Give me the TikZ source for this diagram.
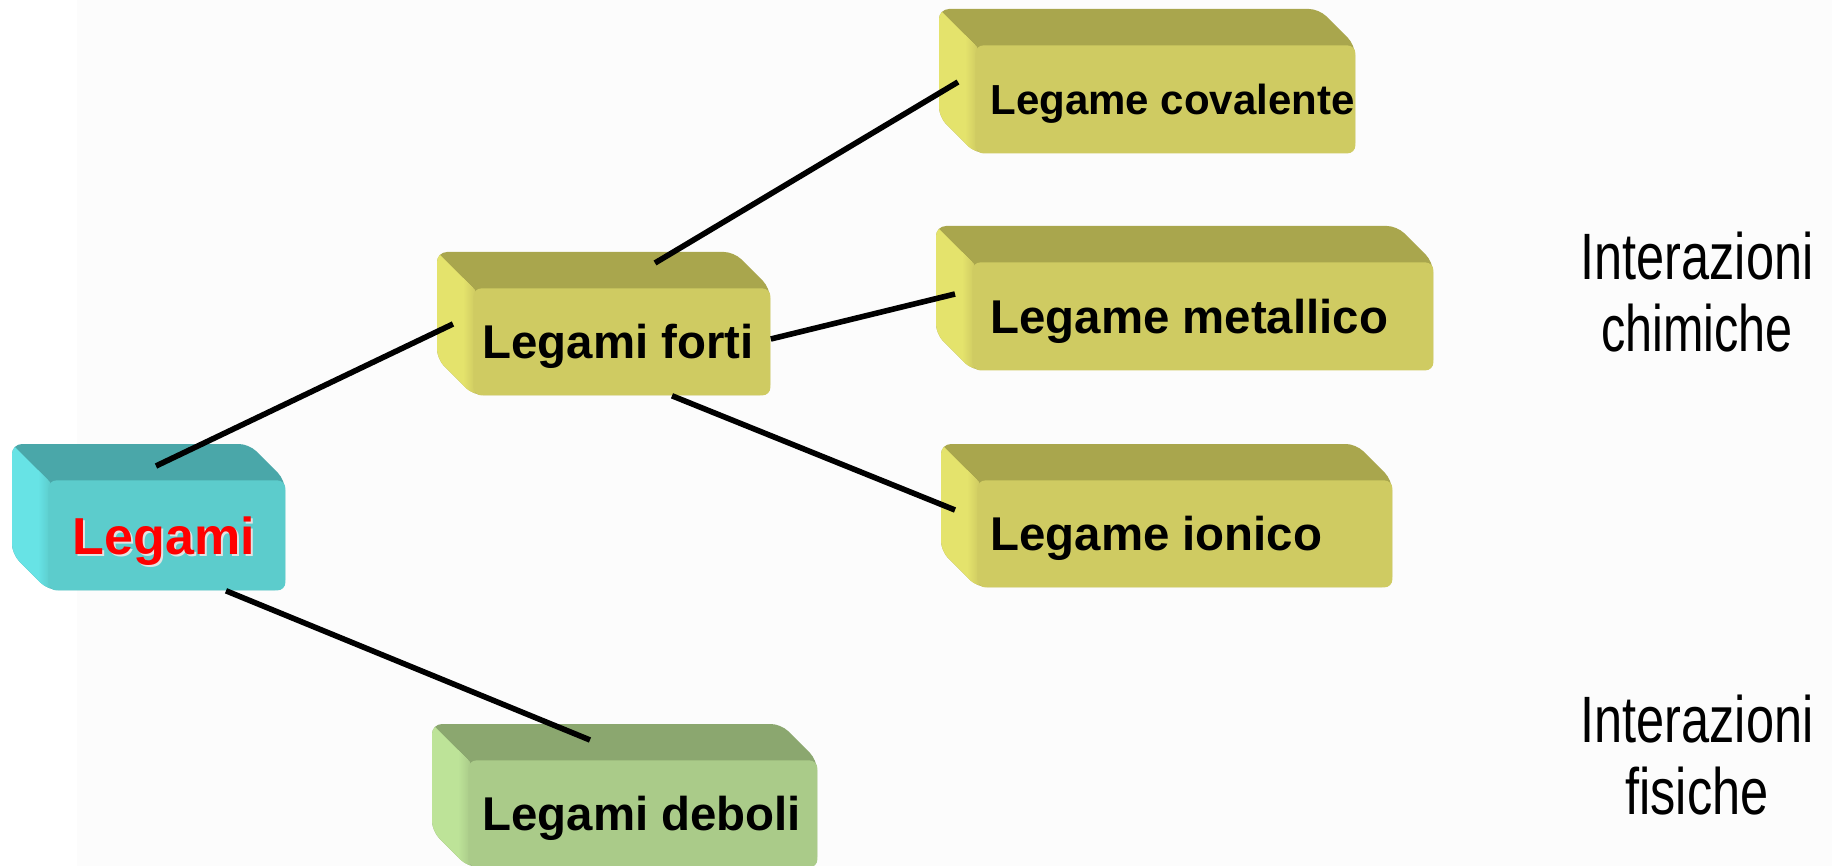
\documentclass[tikz,border=0pt]{standalone}
\usepackage{fontspec}
\setmainfont{Liberation Sans}
\usepackage{graphicx}
\definecolor{cyfront}{HTML}{5CCCCC}
\definecolor{cytop}{HTML}{4AA7A9}
\definecolor{cyleft}{HTML}{67E3E5}
\definecolor{yefront}{HTML}{CFCB62}
\definecolor{yetop}{HTML}{A9A64D}
\definecolor{yeleft}{HTML}{E4E36C}
\definecolor{grfront}{HTML}{AACB89}
\definecolor{grtop}{HTML}{8BA76F}
\definecolor{grleft}{HTML}{BDE398}
\definecolor{bgpage}{HTML}{FCFCFC}
\newcommand{\cubebox}[6]{%
  \pgfmathsetmacro{\cubw}{(#4-#2)*0.5}%
  \pgfmathsetmacro{\cubh}{(#5-#3)*0.5}%
  \fill[#6top, rounded corners=5pt] (#2-36,#3-36) -- (#4-36,#3-36) -- (#4,#3) -- (#4,#5) -- (#2,#5) -- (#2-36,#5-36) -- cycle;
  \begin{scope}
    \clip[rounded corners=5pt] (#2-36,#3-36) -- (#4-36,#3-36) -- (#4,#3) -- (#4,#5) -- (#2,#5) -- (#2-36,#5-36) -- cycle;
    \fill[#6left] (#2-40,#3-40) -- (#2,#3) -- (#2,#5+2) -- (#2-40,#5-38) -- cycle;
    \shade[left color=#6left, right color=#6front] (#2-10,#3-10) -- (#2+2,#3+2) -- (#2+2,#5+2) -- (#2-10,#5-10) -- cycle;
  \end{scope}
  \node[face, fill=#6front, minimum width=\cubw pt, minimum height=\cubh pt, anchor=north west] (#1) at (#2,#3) {};
}
\tikzset{
  face/.style={rectangle, rounded corners=4pt, inner sep=0pt, draw=none},
  lbl/.style={font=\fontsize{23.7}{28}\selectfont\bfseries, inner sep=0pt, anchor=west, text height=17pt, text depth=0pt},
  lblsmall/.style={font=\fontsize{21}{25}\selectfont\bfseries, inner sep=0pt, anchor=west, text height=15pt, text depth=0pt},
  side/.style={font=\fontsize{32.8}{36}\selectfont, align=center, inner sep=0pt},
  link/.style={line width=2.8pt, black}
}
\begin{document}
\begin{tikzpicture}[x=0.5pt, y=-0.5pt]
\useasboundingbox (0,0) rectangle (1832,866);
\fill[white] (0,0) rectangle (77,866);
\fill[bgpage] (77,0) rectangle (1832,866);

\cubebox{legami}{48}{480}{285}{590}{cy}
\cubebox{forti}{473}{288}{770}{395}{ye}
\cubebox{covalente}{975}{45}{1355}{153}{ye}
\cubebox{metallico}{972}{262}{1433}{370}{ye}
\cubebox{ionico}{977}{480}{1392}{587}{ye}
\cubebox{deboli}{468}{760}{817}{867}{gr}

\node[font=\fontsize{26}{30}\selectfont\bfseries, inner sep=0pt, text height=18.6pt, text depth=0pt, text=white!78!gray] (legamishadow) at ([xshift=-0.6pt, yshift=-1.4pt]legami.center) {Legami};
\node[font=\fontsize{26}{30}\selectfont\bfseries, inner sep=0pt, text height=18.6pt, text depth=0pt, text=red] (legamitext) at ([xshift=-1.5pt]legami.center) {Legami};
\node[lbl] (fortitext) at ([xshift=4.5pt]forti.west) {Legami forti};
\node[lblsmall] (covalentetext) at ([xshift=7.5pt]covalente.west) {Legame covalente};
\node[lbl] (metallicotext) at ([xshift=9pt]metallico.west) {Legame metallico};
\node[lbl] (ionicotext) at ([xshift=6.5pt]ionico.west) {Legame ionico};
\node[lbl] (debolitext) at ([xshift=7pt]deboli.west) {Legami deboli};

\draw[link] ([shift={(108,-14)}]legami.north west) -- ([shift={(-20,36)}]forti.north west);
\draw[link] ([shift={(178,0)}]legami.south west) -- ([shift={(122,-20)}]deboli.north west);
\draw[link] ([shift={(182,-25)}]forti.north west) -- ([shift={(-17,37)}]covalente.north west);
\draw[link] ([shift={(0,51)}]forti.north east) -- ([shift={(-17,32)}]metallico.north west);
\draw[link] ([shift={(199,0)}]forti.south west) -- ([shift={(-22,30)}]ionico.north west);

\node[side] (chimiche) at (1697,292) {\scalebox{0.77}[1]{Interazioni}\\\scalebox{0.74}[1]{chimiche}};
\node[side] (fisiche) at (1697,755) {\scalebox{0.77}[1]{Interazioni}\\\scalebox{0.77}[1]{fisiche}};
\end{tikzpicture}
\end{document}
